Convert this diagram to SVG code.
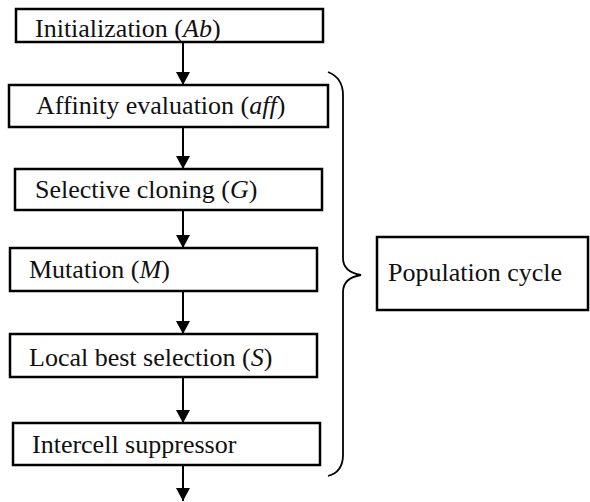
<svg xmlns="http://www.w3.org/2000/svg" width="590" height="502" viewBox="0 0 590 502">
<style>
.box{fill:#fff;stroke:#000;stroke-width:2.5}
.t{font-family:"Liberation Serif","Times New Roman",serif;font-size:26px;fill:#111}
.i{font-style:italic}
.c{stroke:#000;stroke-width:2;fill:none}
</style>
<defs>
<marker id="ah" markerWidth="14" markerHeight="14" refX="13" refY="7" orient="auto" markerUnits="userSpaceOnUse">
<path d="M0,0 L13,7 L0,14 Z" fill="#000"/>
</marker>
</defs>
<rect width="590" height="502" fill="#fff"/>
<g id="connectors">
<line class="c" x1="183" y1="42" x2="183" y2="85" marker-end="url(#ah)"/>
<line class="c" x1="183" y1="127" x2="183" y2="169" marker-end="url(#ah)"/>
<line class="c" x1="183" y1="210" x2="183" y2="248" marker-end="url(#ah)"/>
<line class="c" x1="183" y1="291" x2="183" y2="334" marker-end="url(#ah)"/>
<line class="c" x1="183" y1="377" x2="183" y2="423" marker-end="url(#ah)"/>
<line class="c" x1="183" y1="465" x2="183" y2="501" marker-end="url(#ah)"/>
<path id="brace" d="M328,72 Q343,78 343,95 L343,258 Q343,272 361,275 Q343,278 343,292 L343,455 Q343,472 328,476" fill="none" stroke="#000" stroke-width="1.8"/>
</g>
<g id="n1"><rect class="box" x="16" y="9" width="307" height="33"/><text class="t" x="35" y="37">Initialization (<tspan class="i">Ab</tspan>)</text></g>
<g id="n2"><rect class="box" x="9" y="85" width="319" height="42"/><text class="t" x="36" y="114">Affinity evaluation (<tspan class="i">aff</tspan>)</text></g>
<g id="n3"><rect class="box" x="15" y="169" width="307" height="41"/><text class="t" x="35" y="198">Selective cloning (<tspan class="i">G</tspan>)</text></g>
<g id="n4"><rect class="box" x="10" y="248" width="307" height="43"/><text class="t" x="29" y="278">Mutation (<tspan class="i">M</tspan>)</text></g>
<g id="n5"><rect class="box" x="10" y="334" width="307" height="43"/><text class="t" x="29" y="366">Local best selection (<tspan class="i">S</tspan>)</text></g>
<g id="n6"><rect class="box" x="13" y="423" width="307" height="42"/><text class="t" x="32" y="453">Intercell suppressor</text></g>
<g id="n7"><rect class="box" x="377" y="237" width="211" height="73"/><text class="t" x="388" y="281">Population cycle</text></g>
</svg>
